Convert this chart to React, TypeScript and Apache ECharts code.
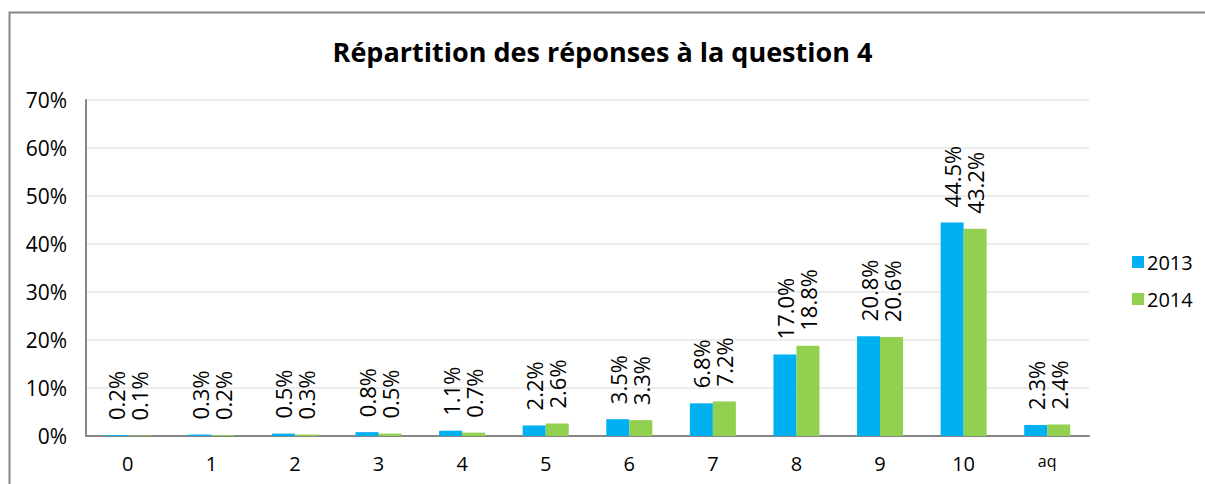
import React, { useEffect, useRef } from "react";
import * as echarts from "echarts";

const categories = ["0", "1", "2", "3", "4", "5", "6", "7", "8", "9", "10", "aq"];
const values2013 = [0.2, 0.3, 0.5, 0.8, 1.1, 2.2, 3.5, 6.8, 17.0, 20.8, 44.5, 2.3];
const values2014 = [0.1, 0.2, 0.3, 0.5, 0.7, 2.6, 3.3, 7.2, 18.8, 20.6, 43.2, 2.4];
const seriesNames = ["2013", "2014"];
const title = "Répartition des réponses à la question 4";

const FONT = "'Open Sans', 'Noto Sans', sans-serif";

export default function App() {
  const ref = useRef<HTMLDivElement>(null);
  useEffect(() => {
    if (!ref.current) return;
    const chart = echarts.init(ref.current, null, { renderer: "svg" });
    const label = {
      show: true,
      position: "top",
      rotate: 90,
      align: "left",
      verticalAlign: "middle",
      distance: 15,
      fontSize: 22,
      fontFamily: FONT,
      color: "#000",
      formatter: (p: any) => p.value.toFixed(1) + "%",
    };
    chart.setOption({
      animation: false,
      textStyle: { fontFamily: FONT },
      title: {
        text: title,
        left: "center",
        top: 33,
        textStyle: { fontSize: 27, fontWeight: "bold", color: "#000", fontFamily: FONT },
      },
      graphic: [
        {
          type: "rect",
          shape: { x: 9.5, y: 12.5, width: 1300, height: 600 },
          style: { fill: "none", stroke: "#868686", lineWidth: 2 },
          silent: true,
        },
      ],
      legend: {
        orient: "vertical",
        left: 1127,
        top: 247,
        itemWidth: 12,
        itemHeight: 12,
        itemGap: 17,
        icon: "rect",
        data: seriesNames,
        textStyle: { fontSize: 20, color: "#000", fontFamily: FONT, padding: [0, 0, 0, -2] },
      },
      grid: { left: 86, top: 100, width: 1003, height: 336, containLabel: false },
      xAxis: {
        type: "category",
        data: categories,
        axisLine: { lineStyle: { color: "#868686", width: 2 } },
        axisTick: { show: false },
        axisLabel: {
          fontSize: 20,
          color: "#000",
          margin: 17,
          fontFamily: FONT,
          formatter: (v: string) => (v === "aq" ? "{s|aq}" : v),
          rich: { s: { fontSize: 16, color: "#000", fontFamily: FONT } },
        },
      },
      yAxis: {
        type: "value",
        min: 0,
        max: 70,
        interval: 10,
        axisLine: { show: true, lineStyle: { color: "#868686", width: 2 } },
        axisTick: { show: false },
        splitLine: { lineStyle: { color: "#e6e6e6", width: 1.5 } },
        axisLabel: {
          formatter: "{value}%",
          fontSize: 21,
          color: "#000",
          margin: 19,
          fontFamily: FONT,
        },
      },
      series: [
        {
          name: seriesNames[0],
          type: "bar",
          data: values2013,
          barWidth: 23,
          barGap: "0%",
          itemStyle: { color: "#00B0F0" },
          label,
        },
        {
          name: seriesNames[1],
          type: "bar",
          data: values2014,
          barWidth: 23,
          barGap: "0%",
          itemStyle: { color: "#92D050" },
          label,
        },
      ],
    });
    return () => chart.dispose();
  }, []);
  return (
    <div
      ref={ref}
      style={{ position: "fixed", left: 0, top: 0, width: 1205, height: 484, background: "#fff" }}
    />
  );
}
